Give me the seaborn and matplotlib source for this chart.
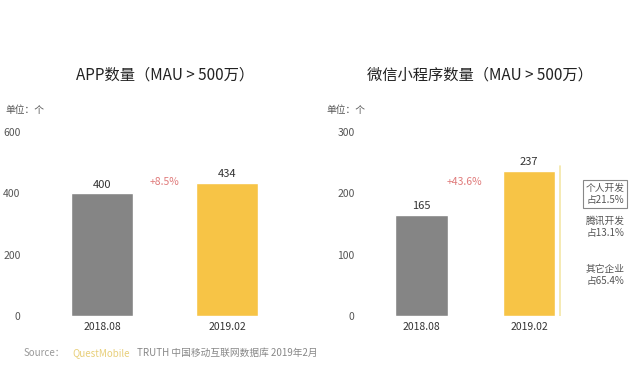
import pandas as pd
import matplotlib.pyplot as plt
import seaborn as sns

periods = ['2018.08', '2019.02']
app_counts = [400, 434]
mini_counts = [165, 237]
mini_share_labels = ['个人开发\n占21.5%', '腾讯开发\n占13.1%', '其它企业\n占65.4%']
titles = ['APP数量（MAU > 500万）', '微信小程序数量（MAU > 500万）']
unit_label = '单位：个'

GRAY = '#858585'
YELLOW = '#f7c446'
TEXT = '#555555'
RED = '#e07b7b'

sns.set_theme(style='white')
plt.rcParams['font.family'] = ['Noto Sans CJK SC', 'DejaVu Sans']


def draw_panel(ax, values, title, ymax, ticks, growth_pos, ypad):
    df = pd.DataFrame({'period': periods, 'count': values})
    sns.barplot(data=df, x='period', y='count', hue='period',
                palette=[GRAY, YELLOW], width=0.49, saturation=1,
                legend=False, ax=ax)
    ax.set_ylim(0, ymax)
    ax.set_yticks(ticks)
    ax.set_xlabel('')
    ax.set_ylabel('')
    ax.tick_params(axis='both', length=0, labelsize=7.5, colors=TEXT)
    ax.tick_params(axis='y', pad=ypad)
    ax.tick_params(axis='x', pad=4)
    for lbl in ax.get_xticklabels():
        lbl.set_color('#333333')
    sns.despine(ax=ax, left=True, bottom=True)
    for i, v in enumerate(values):
        ax.text(i, v + ymax * 0.02, str(v), ha='center', va='bottom',
                fontsize=8, color='#333333')
    growth = (values[1] / values[0] - 1) * 100
    ax.text(growth_pos[0], growth_pos[1] * ymax, f'+{growth:.1f}%', ha='center',
            va='center', fontsize=7.5, color=RED)
    ax.set_title(title, fontsize=11, color='#222222', pad=38)


fig = plt.figure(figsize=(6.4, 3.7), dpi=100)
ax1 = fig.add_axes([40 / 640, 1 - 316 / 370, 250 / 640, 184 / 370])
ax2 = fig.add_axes([370 / 640, 1 - 316 / 370, 220 / 640, 184 / 370])

draw_panel(ax1, app_counts, titles[0], 600, [0, 200, 400, 600], (0.5, 0.73), 14)
ax1.set_xlim(-0.496, 1.504)
draw_panel(ax2, mini_counts, titles[1], 300, [0, 100, 200, 300], (0.4, 0.73), 11)
ax2.set_xlim(-0.479, 1.567)

fig.text(5 / 640, 1 - 110 / 370, unit_label, fontsize=7, color=TEXT, va='center')
fig.text(326 / 640, 1 - 110 / 370, unit_label, fontsize=7, color=TEXT, va='center')

# thin bracket line beside the 2019.02 mini-program bar
bx = 1 + 0.49 / 2 + 0.04
ax2.plot([bx, bx], [0, mini_counts[1] * 1.03], color='#f3e6a6', lw=1.2)

fig.text(605 / 640, 1 - 194 / 370, mini_share_labels[0], ha='center',
         va='center', fontsize=7, color=TEXT, linespacing=1.2,
         bbox=dict(boxstyle='square,pad=0.3', fc='white', ec='#888888', lw=0.8))
fig.text(605 / 640, 1 - 227 / 370, mini_share_labels[1], ha='center',
         va='center', fontsize=7, color=TEXT, linespacing=1.2)
fig.text(605 / 640, 1 - 275 / 370, mini_share_labels[2], ha='center',
         va='center', fontsize=7, color=TEXT, linespacing=1.2)

fig.text(24 / 640, 1 - 353 / 370, 'Source：', fontsize=7, color='#999999', va='center')
fig.text(72 / 640, 1 - 353 / 370, 'QuestMobile', fontsize=7, color='#e8cf7a', va='center')
fig.text(137 / 640, 1 - 353 / 370, 'TRUTH 中国移动互联网数据库 2019年2月',
         fontsize=7, color='#888888', va='center')

fig.savefig('out.png', dpi=100, facecolor='white')
